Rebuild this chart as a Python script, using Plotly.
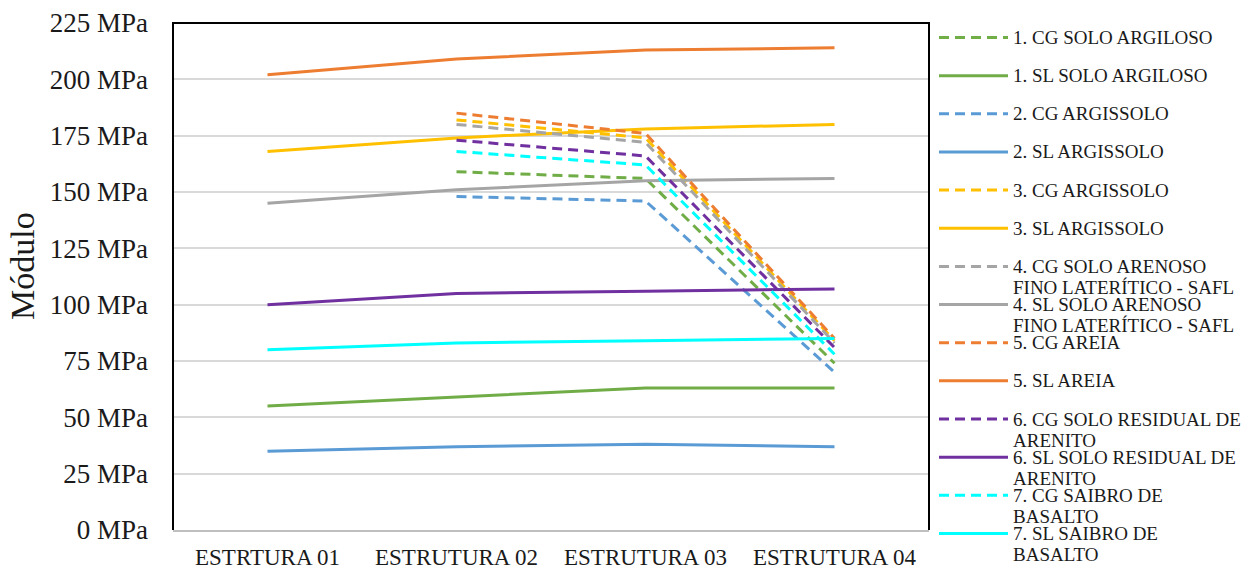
import plotly.graph_objects as go

# Categories (pavement structures)
estruturas = ["ESTRTURA 01", "ESTRUTURA 02", "ESTRUTURA 03", "ESTRUTURA 04"]

# Resilient modulus (MPa) per soil: CG and SL series
cg_1 = [None, 159, 156, 74]
sl_1 = [55, 59, 63, 63]
cg_2 = [None, 148, 146, 70]
sl_2 = [35, 37, 38, 37]
cg_3 = [None, 182, 174, 84]
sl_3 = [168, 174, 178, 180]
cg_4 = [None, 180, 172, 83]
sl_4 = [145, 151, 155, 156]
cg_5 = [None, 185, 176, 85]
sl_5 = [202, 209, 213, 214]
cg_6 = [None, 173, 166, 81]
sl_6 = [100, 105, 106, 107]
cg_7 = [None, 168, 162, 78]
sl_7 = [80, 83, 84, 85]

nomes = [
    "1. CG SOLO ARGILOSO",
    "1. SL SOLO ARGILOSO",
    "2. CG ARGISSOLO",
    "2. SL ARGISSOLO",
    "3. CG ARGISSOLO",
    "3. SL ARGISSOLO",
    "4. CG SOLO ARENOSO<br>FINO LATERÍTICO - SAFL",
    "4. SL SOLO ARENOSO<br>FINO LATERÍTICO - SAFL",
    "5. CG AREIA",
    "5. SL AREIA",
    "6. CG SOLO RESIDUAL DE<br>ARENITO",
    "6. SL SOLO RESIDUAL DE<br>ARENITO",
    "7. CG SAIBRO DE<br>BASALTO",
    "7. SL SAIBRO DE<br>BASALTO",
]
series = [cg_1, sl_1, cg_2, sl_2, cg_3, sl_3, cg_4, sl_4,
          cg_5, sl_5, cg_6, sl_6, cg_7, sl_7]

y_ticks = [0, 25, 50, 75, 100, 125, 150, 175, 200, 225]
y_tick_labels = [f"{v} MPa" for v in y_ticks]

# Styling
palette = ["#70AD47", "#5B9BD5", "#FFC000", "#A5A5A5", "#ED7D31", "#7030A0", "#00FFFF"]
DASH = "10px,6px"
SERIF = "Liberation Serif, Times New Roman, serif"
TXT = "#1a1a1a"

W, H = 1253, 570
L, R, T, B = 173, 324, 23, 40
plot_h = H - T - B

fig = go.Figure()
for i, (nome, vals) in enumerate(zip(nomes, series)):
    cor = palette[i // 2]
    dashed = (i % 2 == 0)
    fig.add_trace(go.Scatter(
        x=estruturas, y=vals, mode="lines", name=nome.replace("<br>", " "),
        line=dict(color=cor, width=3, dash=DASH if dashed else "solid"),
        connectgaps=False, showlegend=False, hoverinfo="x+y+name",
    ))

# Hand-built legend column on the right
def px_to_paper_y(py):
    return (H - B - py) / plot_h

def px_to_paper_x(px):
    return (px - L) / (W - L - R)

shapes = []
annotations = []
y0_leg, step = 37.5, 38.15
for i, nome in enumerate(nomes):
    cor = palette[i // 2]
    dashed = (i % 2 == 0)
    py = y0_leg + i * step
    yp = px_to_paper_y(py)
    shapes.append(dict(
        type="line", xref="paper", yref="paper",
        x0=px_to_paper_x(939), x1=px_to_paper_x(1008), y0=yp, y1=yp,
        line=dict(color=cor, width=3, dash=DASH if dashed else "solid"),
    ))
    for k, linha in enumerate(nome.split("<br>")):
        annotations.append(dict(
            xref="paper", yref="paper",
            x=px_to_paper_x(1011), y=px_to_paper_y(py + 21 * k),
            xanchor="left", yanchor="middle", showarrow=False,
            text=linha, font=dict(family=SERIF, size=19, color=TXT),
        ))

# Plot-area frame: left, top and right edges
shapes.append(dict(
    type="path", xref="paper", yref="paper",
    path="M 0,0 L 0,1 L 1,1 L 1,0", line=dict(color="#000000", width=2),
    layer="above",
))

# Rotated y-axis title
annotations.append(dict(
    xref="paper", yref="paper", x=px_to_paper_x(22), y=px_to_paper_y(266),
    xanchor="center", yanchor="middle", showarrow=False, textangle=-90,
    text="Módulo", font=dict(family=SERIF, size=34, color=TXT),
))

fig.update_layout(
    width=W, height=H,
    margin=dict(l=L, r=R, t=T, b=B, pad=0),
    paper_bgcolor="white", plot_bgcolor="white",
    showlegend=False,
    shapes=shapes, annotations=annotations,
    xaxis=dict(
        type="category", categoryorder="array", categoryarray=estruturas,
        range=[-0.5, 3.5], showgrid=False, zeroline=False, automargin=False,
        showline=True, linecolor="#BFBFBF", linewidth=2,
        ticks="", ticklabelstandoff=5,
        tickfont=dict(family=SERIF, size=23, color=TXT),
    ),
    yaxis=dict(
        range=[0, 225], tickmode="array", tickvals=y_ticks, ticktext=y_tick_labels,
        showgrid=True, gridcolor="#D9D9D9", gridwidth=2, automargin=False,
        zeroline=False, showline=False, ticks="", ticklabelstandoff=24,
        tickfont=dict(family=SERIF, size=27, color=TXT),
    ),
)

fig.write_html("out.html")
